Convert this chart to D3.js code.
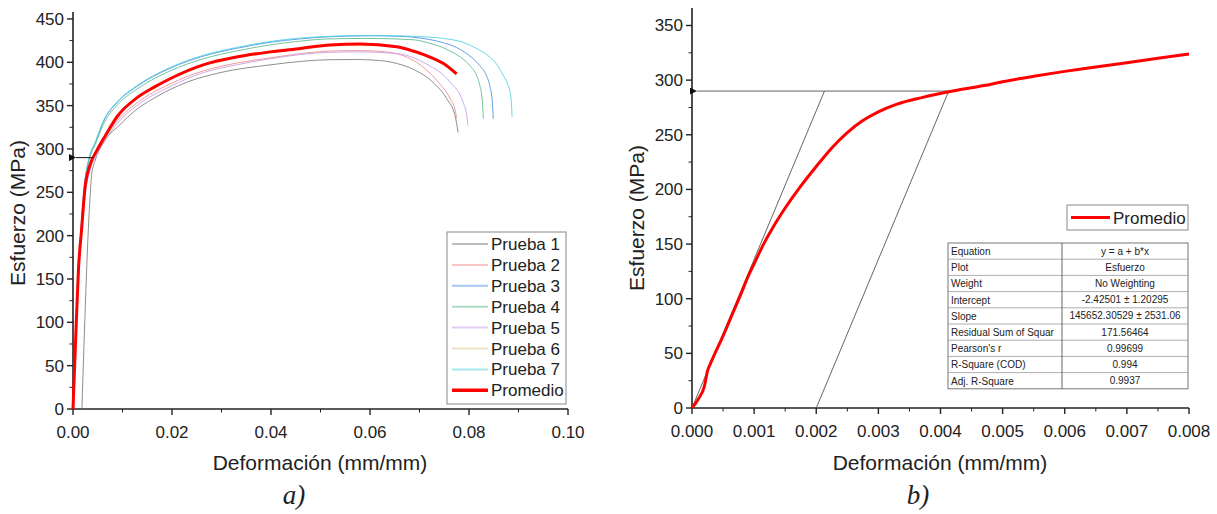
<!DOCTYPE html>
<html>
<head>
<meta charset="utf-8">
<title>Esfuerzo - Deformación</title>
<script src="https://d3js.org/d3.v7.min.js"></script>
<style>
  body { margin: 0; background: #fff; overflow: hidden; }
  svg text { font-family: "Liberation Sans", Arial, sans-serif; fill: #222; }
  .cap { font-family: "Liberation Serif", "Times New Roman", serif; font-style: italic; }
</style>
</head>
<body>
<svg width="1217" height="514"></svg>
<script>
// ---- data (strain mm/mm, stress MPa) ----
const prueba1 = [[0.0018,0],[0.0034,240],[0.0038,272],[0.0045,287],[0.0065,310],[0.0095,328],[0.0125,344],[0.0162,358],[0.023,377],[0.0297,388],[0.0398,397],[0.046,401],[0.0519,403],[0.057,403.2],[0.062,402],[0.0655,398.5],[0.0687,392],[0.0727,377],[0.0755,358],[0.0772,338],[0.0778,319]];
const prueba2 = [[0,0],[0.001,140],[0.0017,205],[0.0025,252],[0.0035,280],[0.0048,296],[0.0065,313],[0.009,333],[0.0129,353],[0.0196,375],[0.0263,390],[0.033,399],[0.0398,405],[0.046,410],[0.0519,413],[0.058,413.5],[0.064,411.5],[0.067,407],[0.0694,400],[0.0735,379],[0.0762,358],[0.0772,345],[0.0775,335]];
const prueba3 = [[0,0],[0.001,145],[0.0017,215],[0.0024,262],[0.0033,290],[0.0045,307],[0.0061,331],[0.009,354],[0.0129,372],[0.0196,393],[0.0263,407],[0.033,416],[0.0398,423],[0.046,427],[0.0519,429.5],[0.06,430.5],[0.066,430],[0.0707,427.5],[0.0745,423],[0.0775,417],[0.08,408],[0.0822,396],[0.0835,385],[0.0842,373],[0.0847,355],[0.0849,335]];
const prueba4 = [[0,0],[0.001,143],[0.0017,212],[0.0024,260],[0.0033,288],[0.0045,305],[0.0061,328],[0.009,351],[0.0129,369],[0.0196,390],[0.0263,404],[0.033,413],[0.0398,420],[0.046,424.5],[0.0519,427],[0.06,427.5],[0.0687,426],[0.072,422],[0.0755,415],[0.078,407],[0.0802,396],[0.0815,385],[0.0822,373],[0.0827,355],[0.0829,335]];
const prueba5 = [[0,0],[0.001,138],[0.0017,202],[0.0025,249],[0.0035,277],[0.0048,293],[0.0065,310],[0.009,330],[0.0129,350],[0.0196,372],[0.0263,388],[0.033,397],[0.0398,404],[0.046,409],[0.0519,411.5],[0.058,412],[0.0654,410],[0.0714,398],[0.0762,377],[0.0788,354],[0.0795,340],[0.0798,327]];
const prueba6 = [[0,0],[0.0011,160],[0.00175,207],[0.0024,253],[0.0034,280],[0.0048,297],[0.0065,314],[0.009,337],[0.0129,358],[0.0163,370],[0.0196,380],[0.0263,396],[0.033,405],[0.0398,411],[0.046,415],[0.0519,419],[0.058,420],[0.0654,417],[0.0687,412],[0.0721,405],[0.0755,395],[0.0775,385]];
const prueba7 = [[0,0],[0.001,146],[0.0017,216],[0.0024,263],[0.0033,291],[0.0045,308],[0.0061,332],[0.009,355],[0.0129,373],[0.0196,394],[0.0263,408],[0.033,417],[0.0398,424],[0.046,428],[0.0519,430],[0.06,431],[0.0721,429],[0.0755,427],[0.0788,423],[0.0815,416],[0.0842,406],[0.0858,396],[0.0869,385],[0.0878,375],[0.0883,365],[0.0886,350],[0.0887,337]];
const promedio = [[0,0],[0.0005,75],[0.0011,161],[0.00175,208],[0.0024,254],[0.0034,281],[0.0048,298],[0.0065,315],[0.009,338],[0.0129,359],[0.0163,371],[0.0196,381],[0.0263,397],[0.033,406],[0.0398,412],[0.046,416],[0.0519,420],[0.058,421],[0.0654,418],[0.0687,413],[0.0721,406],[0.0755,396],[0.0775,386.5]];

const seriesNames = ["Prueba 1","Prueba 2","Prueba 3","Prueba 4","Prueba 5","Prueba 6","Prueba 7","Promedio"];
const seriesColors = ["#7a7a7a","#f28a8a","#4a8de8","#58b98a","#c39be8","#dcc687","#4cd3dc","#ff0000"];
const seriesData = [prueba1, prueba2, prueba3, prueba4, prueba5, prueba6, prueba7, promedio];

// zoom on the elastic zone of the average curve
const promedioZoom = [[0,0],[0.0001,8],[0.0002,20],[0.00025,34],[0.0003,41],[0.0005,66],[0.00065,86],[0.0008,106],[0.0009,120],[0.001,132],[0.0011,144],[0.0012,155],[0.0013,165],[0.0015,183],[0.00175,203],[0.002,221],[0.00225,238],[0.0025,252],[0.00275,263],[0.003,271],[0.0033,278],[0.0037,284],[0.0042,290],[0.0047,295],[0.005,298.5],[0.0055,303.5],[0.006,308],[0.0065,312],[0.007,316],[0.0075,320],[0.008,324]];

const yieldStress = 290;        // MPa, arrow level
const yieldStrainA = 0.0041;    // where the arrow starts in a)
const yieldStrainB = 0.00415;   // intersection with offset line in b)
const modulus = 136000;         // slope of the drawn elastic lines
const offset = 0.002;           // 0.2 % offset

const fitRows = [
  ["Equation","y = a + b*x"],
  ["Plot","Esfuerzo"],
  ["Weight","No Weighting"],
  ["Intercept","-2.42501 ± 1.20295"],
  ["Slope","145652.30529 ± 2531.06"],
  ["Residual Sum of Squar","171.56464"],
  ["Pearson's r","0.99699"],
  ["R-Square (COD)","0.994"],
  ["Adj. R-Square","0.9937"]
];

const svg = d3.select("svg");

svg.append("defs").append("marker")
  .attr("id", "arr").attr("viewBox", "0 0 10 10")
  .attr("refX", 0).attr("refY", 5)
  .attr("markerWidth", 9).attr("markerHeight", 7)
  .attr("markerUnits", "userSpaceOnUse")
  .attr("orient", "auto-start-reverse")
  .append("path").attr("d", "M10,0 L0,5 L10,10 z").attr("fill", "#111");

function drawAxes(g, x, y, xTicks, xMinor, xFmt, yTicks, yMinor) {
  const [x0, x1] = x.range();
  const [y0, y1] = y.range();
  const ax = g.append("g").attr("stroke", "#222");
  ax.append("line").attr("x1", x0).attr("x2", x1).attr("y1", y0).attr("y2", y0).attr("stroke-width", 1.6);
  ax.append("line").attr("x1", x0).attr("x2", x0).attr("y1", y0).attr("y2", y1).attr("stroke-width", 1.6);
  xMinor.forEach(v => ax.append("line").attr("x1", x(v)).attr("x2", x(v)).attr("y1", y0).attr("y2", y0 + 3.5));
  xTicks.forEach(v => ax.append("line").attr("x1", x(v)).attr("x2", x(v)).attr("y1", y0).attr("y2", y0 + 6).attr("stroke-width", 1.4));
  yMinor.forEach(v => ax.append("line").attr("x1", x0 - 3.5).attr("x2", x0).attr("y1", y(v)).attr("y2", y(v)));
  yTicks.forEach(v => ax.append("line").attr("x1", x0 - 6).attr("x2", x0).attr("y1", y(v)).attr("y2", y(v)).attr("stroke-width", 1.4));
  g.selectAll(null).data(xTicks).enter().append("text")
    .attr("x", d => x(d)).attr("y", y0 + 29).attr("text-anchor", "middle")
    .style("font-size", "17px").text(xFmt);
  g.selectAll(null).data(yTicks).enter().append("text")
    .attr("x", x0 - 9).attr("y", d => y(d) + 6).attr("text-anchor", "end")
    .style("font-size", "17px").text(d => d);
}

// ---------------- a) ----------------
const xa = d3.scaleLinear().domain([0, 0.1]).range([73, 568]);
const ya = d3.scaleLinear().domain([0, 458]).range([409, 12]);
const ga = svg.append("g");
drawAxes(ga, xa, ya,
  d3.range(0, 0.1001, 0.02), d3.range(0.01, 0.1, 0.02), d3.format(".2f"),
  d3.range(0, 451, 50), d3.range(25, 458, 50));

const lineA = d3.line().x(d => xa(d[0])).y(d => ya(d[1])).curve(d3.curveMonotoneX);
seriesData.forEach((s, i) => {
  const avg = i === 7;
  ga.append("path").datum(s).attr("d", lineA)
    .attr("fill", "none").attr("stroke", seriesColors[i])
    .attr("stroke-width", avg ? 3 : 1)
    .attr("stroke-opacity", avg ? 1 : 0.85);
});
ga.append("line")
  .attr("x1", xa(yieldStrainA)).attr("x2", xa(0) + 3)
  .attr("y1", ya(yieldStress)).attr("y2", ya(yieldStress))
  .attr("stroke", "#111").attr("stroke-width", 1)
  .attr("marker-end", "url(#arr)");

// legend a)
const lg = ga.append("g").attr("transform", "translate(447,232)");
lg.append("rect").attr("width", 119).attr("height", 172)
  .attr("fill", "#fff").attr("stroke", "#888").attr("stroke-width", 1);
seriesNames.forEach((n, i) => {
  const yy = 12 + i * 20.9;
  lg.append("line").attr("x1", 5).attr("x2", 41).attr("y1", yy).attr("y2", yy)
    .attr("stroke", seriesColors[i]).attr("stroke-width", i === 7 ? 3.5 : 2)
    .attr("stroke-opacity", i === 7 ? 1 : 0.5);
  lg.append("text").attr("x", 44).attr("y", yy + 6).style("font-size", "17px").text(n);
});

ga.append("text").attr("transform", "translate(25,213) rotate(-90)")
  .attr("text-anchor", "middle").style("font-size", "21px").text("Esfuerzo (MPa)");
ga.append("text").attr("x", 320).attr("y", 470).attr("text-anchor", "middle")
  .style("font-size", "21px").text("Deformación (mm/mm)");
ga.append("text").attr("class", "cap").attr("x", 294).attr("y", 504)
  .attr("text-anchor", "middle").style("font-size", "27px").text("a)");

// ---------------- b) ----------------
const xb = d3.scaleLinear().domain([0, 0.008]).range([692, 1189]);
const yb = d3.scaleLinear().domain([0, 366]).range([408, 8]);
const gb = svg.append("g");
drawAxes(gb, xb, yb,
  d3.range(0, 0.00801, 0.001), d3.range(0.0005, 0.008, 0.001), d3.format(".3f"),
  d3.range(0, 351, 50), d3.range(25, 366, 50));

// elastic line and 0.2% offset line
const elastic = [[0, 0], [yieldStress / modulus, yieldStress]];
const offsetLine = [[offset, 0], [offset + yieldStress / modulus, yieldStress]];
[elastic, offsetLine].forEach(l => {
  gb.append("line")
    .attr("x1", xb(l[0][0])).attr("y1", yb(l[0][1]))
    .attr("x2", xb(l[1][0])).attr("y2", yb(l[1][1]))
    .attr("stroke", "#555").attr("stroke-width", 0.9);
});
gb.append("line")
  .attr("x1", xb(yieldStrainB)).attr("x2", xb(0) + 5)
  .attr("y1", yb(yieldStress)).attr("y2", yb(yieldStress))
  .attr("stroke", "#555").attr("stroke-width", 0.9)
  .attr("marker-end", "url(#arr)");

const lineB = d3.line().x(d => xb(d[0])).y(d => yb(d[1])).curve(d3.curveMonotoneX);
gb.append("path").datum(promedioZoom).attr("d", lineB)
  .attr("fill", "none").attr("stroke", "#ff0000").attr("stroke-width", 3);

// legend b)
const lb = gb.append("g").attr("transform", "translate(1067,205)");
lb.append("rect").attr("width", 121).attr("height", 25)
  .attr("fill", "#fff").attr("stroke", "#888");
lb.append("line").attr("x1", 4).attr("x2", 43).attr("y1", 12.5).attr("y2", 12.5)
  .attr("stroke", "#ff0000").attr("stroke-width", 3);
lb.append("text").attr("x", 46).attr("y", 19).style("font-size", "17px").text("Promedio");

// fit table
const tw = 240, rh = 16.2, c1 = 114;
const tb = gb.append("g").attr("transform", "translate(948,243)");
tb.append("rect").attr("width", tw).attr("height", rh * fitRows.length)
  .attr("fill", "#fff").attr("stroke", "#777");
fitRows.forEach((r, i) => {
  if (i > 0) tb.append("line").attr("x1", 0).attr("x2", tw).attr("y1", i * rh).attr("y2", i * rh)
    .attr("stroke", "#999").attr("stroke-width", 0.8);
  tb.append("text").attr("x", 3).attr("y", i * rh + 12).style("font-size", "10px").text(r[0]);
  tb.append("text").attr("x", c1 + (tw - c1) / 2).attr("y", i * rh + 11.5)
    .attr("text-anchor", "middle").style("font-size", "10px").text(r[1]);
});
tb.append("line").attr("x1", c1).attr("x2", c1).attr("y1", 0).attr("y2", rh * fitRows.length)
  .attr("stroke", "#555").attr("stroke-width", 0.9);

gb.append("text").attr("transform", "translate(644,218) rotate(-90)")
  .attr("text-anchor", "middle").style("font-size", "21px").text("Esfuerzo (MPa)");
gb.append("text").attr("x", 940).attr("y", 470).attr("text-anchor", "middle")
  .style("font-size", "21px").text("Deformación (mm/mm)");
gb.append("text").attr("class", "cap").attr("x", 918).attr("y", 504)
  .attr("text-anchor", "middle").style("font-size", "27px").text("b)");
</script>
</body>
</html>
